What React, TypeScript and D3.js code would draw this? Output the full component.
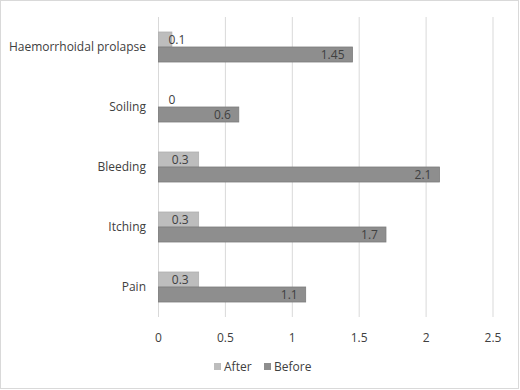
import React from "react";
import * as d3 from "d3";

const categories = ["Haemorrhoidal prolapse", "Soiling", "Bleeding", "Itching", "Pain"];
const afterValues = [0.1, 0, 0.3, 0.3, 0.3];
const beforeValues = [1.45, 0.6, 2.1, 1.7, 1.1];
const seriesNames = ["After", "Before"];
const xTicks = [0, 0.5, 1, 1.5, 2, 2.5];

const W = 520;
const H = 390;
const font = "'Open Sans', sans-serif";
const textColor = "#404040";
const afterColor = "#bdbdbd";
const beforeColor = "#8e8e8e";

const App = () => {
  const x = d3.scaleLinear().domain([0, 2.5]).range([158.5, 493]);
  const y = d3.scaleBand().domain(categories).range([17, 317]).paddingInner(0.5).paddingOuter(0.25);
  const bw = y.bandwidth() / 2;

  return (
    <svg width={W} height={H} style={{ position: "absolute", left: 0, top: 0 }}>
      <rect x={0.5} y={0.5} width={W - 2} height={H - 2} fill="#fff" stroke="#d9d9d9" />
      {xTicks.map((t) => (
        <g key={t}>
          <line x1={x(t)} x2={x(t)} y1={17} y2={317} stroke="#d9d9d9" strokeWidth={1} />
          <text x={x(t)} y={342} textAnchor="middle" fontFamily={font} fontSize={12} fill={textColor}>
            {t}
          </text>
        </g>
      ))}
      {categories.map((c, i) => {
        const y0 = y(c)!;
        const a = afterValues[i];
        const b = beforeValues[i];
        const aLabel = String(a);
        const approxW = aLabel.length * 6.5;
        const aMid = (x(0) + x(a)) / 2;
        const aStart = Math.max(x(0) + 10, aMid - approxW / 2 + 3);
        return (
          <g key={c}>
            <text x={146} y={y0 + bw + 4} textAnchor="end" fontFamily={font} fontSize={12} fill={textColor}>
              {c}
            </text>
            <rect x={x(0)} y={y0} width={x(a) - x(0)} height={bw} fill={afterColor} stroke="#b0b0b0" strokeWidth={a > 0 ? 0.8 : 0} />
            <rect x={x(0)} y={y0 + bw} width={x(b) - x(0)} height={bw} fill={beforeColor} stroke="#7c7c7c" strokeWidth={0.8} />
            <text x={aStart} y={y0 + bw / 2 + 4.5} fontFamily={font} fontSize={12} fill={textColor}>
              {aLabel}
            </text>
            <text x={x(b) - 8} y={y0 + bw * 1.5 + 4.5} textAnchor="end" fontFamily={font} fontSize={12} fill={textColor}>
              {b}
            </text>
          </g>
        );
      })}
      {seriesNames.map((s, i) => {
        const lx = [214, 264][i];
        return (
          <g key={s}>
            <rect x={lx} y={363} width={7} height={7} fill={i === 0 ? afterColor : beforeColor} />
            <text x={lx + 10} y={371} fontFamily={font} fontSize={12} fill={textColor}>
              {s}
            </text>
          </g>
        );
      })}
    </svg>
  );
};

export default App;
